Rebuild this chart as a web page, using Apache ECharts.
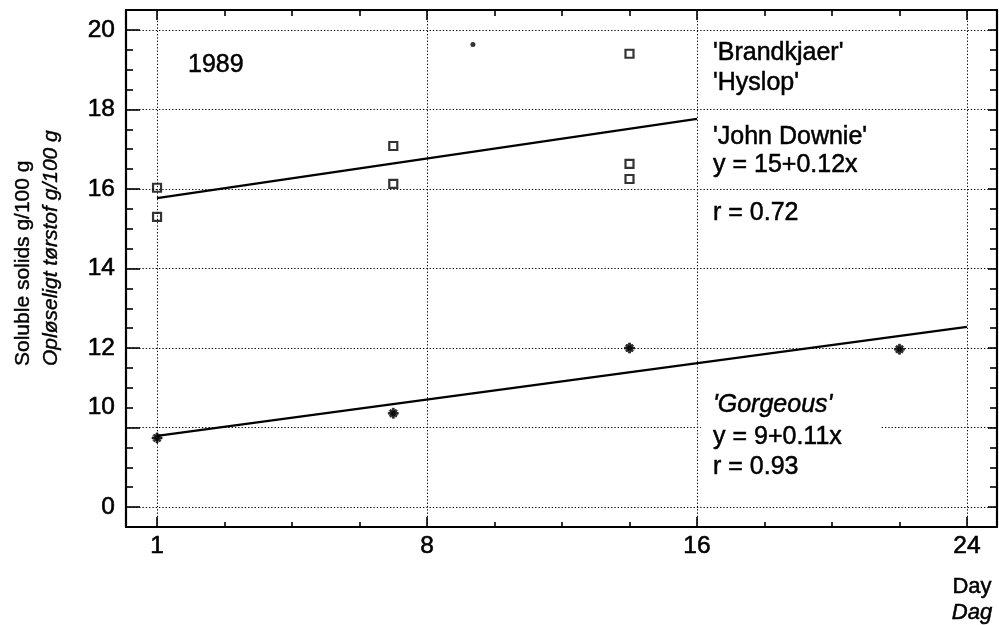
<!DOCTYPE html>
<html>
<head>
<meta charset="utf-8">
<script src="https://cdn.jsdelivr.net/npm/echarts@6/dist/echarts.min.js"></script>
<style>html,body{margin:0;padding:0;background:#fff}#c{width:999px;height:625px}</style>
</head>
<body>
<div id="c"></div>
<script>
// ---- data (display units: y value 8 is drawn as the broken-axis "0") ----
const xTickValues = [0, 8, 16, 24];
const xTickLabels = ['1', '8', '16', '24'];
const xMinorTicks = [2, 4, 6, 10, 12, 14, 18, 20, 22];
const yTickValues = [8, 10.5, 12, 14, 16, 18, 20];
const yTickLabels = ['0', '10', '12', '14', '16', '18', '20'];
const yMajorTicks = [8, 10, 12, 14, 16, 18, 20];
const yMinorTicks = [8.5, 9, 9.5, 10.5, 11, 11.5, 12.5, 13, 13.5, 14.5, 15, 15.5, 16.5, 17, 17.5, 18.5, 19, 19.5];
const xGrid = [0, 8, 16, 24];
const yGrid = [8, 10, 12, 14, 16, 18, 20];

const cultivarDays = [0, 0, 7, 7, 14, 14, 14];
const cultivarValues = [16.03, 15.30, 17.08, 16.13, 19.40, 16.63, 16.25];
const gorgeousDays = [0, 7, 14, 22];
const gorgeousValues = [9.74, 10.36, 12.0, 11.97];
const strayDays = [9.36];
const strayValues = [19.63];
const cultivarTrendDays = [0, 16];
const cultivarTrendValues = [15.77, 17.76];
const gorgeousTrendDays = [0, 24];
const gorgeousTrendValues = [9.79, 12.53];

const zip = (a, b) => a.map((v, i) => [v, b[i]]);
const FONT = '"Liberation Sans", Arial, Helvetica, sans-serif';
const XMIN = -0.92, XMAX = 24.89, YMIN = 7.5, YMAX = 20.5;

const asterisk = 'path://M4,0 L6,0 L6,10 L4,10 Z M0,4 L10,4 L10,6 L0,6 Z M1,2.4 L2.4,1 L9,7.6 L7.6,9 Z M7.6,1 L9,2.4 L2.4,9 L1,7.6 Z';

function xAx(pos, ticks, len, labels, line) {
  return {
    type: 'value', position: pos, min: XMIN, max: XMAX,
    axisLine: { show: line, onZero: false, lineStyle: { color: '#000', width: 2.2 } },
    axisTick: { show: true, inside: true, length: len, customValues: ticks, lineStyle: { color: '#000', width: 1.6 } },
    axisLabel: labels ? {
      show: true, customValues: xTickValues, margin: 7, color: '#000', fontSize: 24.5, fontFamily: FONT,
      textBorderColor: '#000', textBorderWidth: 0.6,
      formatter: v => { const i = xTickValues.indexOf(v); return i >= 0 ? xTickLabels[i] : ''; }
    } : { show: false },
    splitLine: { show: false }
  };
}
function yAx(pos, ticks, len, labels, line) {
  return {
    type: 'value', position: pos, min: YMIN, max: YMAX,
    axisLine: { show: line, onZero: false, lineStyle: { color: '#000', width: 2.2 } },
    axisTick: { show: true, inside: true, length: len, customValues: ticks, lineStyle: { color: '#000', width: 1.6 } },
    axisLabel: labels ? {
      show: true, customValues: yTickValues, margin: 11, color: '#000', fontSize: 24.5, fontFamily: FONT,
      textBorderColor: '#000', textBorderWidth: 0.6,
      formatter: v => { const i = yTickValues.indexOf(v); return i >= 0 ? yTickLabels[i] : ''; }
    } : { show: false },
    splitLine: { show: false }
  };
}

const chart = echarts.init(document.getElementById('c'), null, { renderer: 'canvas' });
const gridLine = { color: '#000', width: 1, type: [1.3, 2.0] };

function txt(x, y, text, font, align) {
  return {
    type: 'text', z: 60, x: x, y: y,
    style: { text: text, font: font + FONT, fill: '#000', stroke: '#000', lineWidth: 0.5, align: align || 'left', verticalAlign: 'middle' }
  };
}
function vtxt(x, y, text, font) {
  return {
    type: 'text', z: 60, x: x, y: y, rotation: Math.PI / 2,
    style: { text: text, font: font + FONT, fill: '#000', stroke: '#000', lineWidth: 0.4, align: 'left', verticalAlign: 'middle' }
  };
}

const option = {
  animation: false,
  backgroundColor: '#fff',
  grid: { left: 126, right: 2, top: 10, bottom: 98 },
  xAxis: [
    xAx('bottom', xTickValues, 10, true, true),
    xAx('bottom', xMinorTicks, 5, false, false),
    xAx('top', xTickValues, 10, false, true),
    xAx('top', xMinorTicks, 6, false, false)
  ],
  yAxis: [
    yAx('left', yMajorTicks, 14, true, true),
    yAx('left', yMinorTicks, 7, false, false),
    yAx('right', yMajorTicks, 9, false, true),
    yAx('right', yMinorTicks, 7, false, false)
  ],
  series: [
    {
      type: 'scatter', silent: true, data: [], symbolSize: 0,
      markLine: {
        silent: true, symbol: 'none', label: { show: false }, animation: false,
        lineStyle: gridLine,
        data: xGrid.map(v => ({ xAxis: v })).concat(yGrid.map(v => ({ yAxis: v })))
      }
    },
    {
      name: 'trend cultivars', type: 'line', data: zip(cultivarTrendDays, cultivarTrendValues),
      showSymbol: false, symbol: 'none', lineStyle: { color: '#000', width: 2.3 }, z: 3
    },
    {
      name: 'trend Gorgeous', type: 'line', data: zip(gorgeousTrendDays, gorgeousTrendValues),
      showSymbol: false, symbol: 'none', lineStyle: { color: '#000', width: 2.3 }, z: 3
    },
    {
      name: 'Brandkjaer/Hyslop/John Downie', type: 'scatter', data: zip(cultivarDays, cultivarValues),
      symbol: 'rect', symbolSize: 8,
      itemStyle: { color: '#fff', borderColor: '#000', borderWidth: 2.2 }, z: 4
    },
    {
      name: 'Gorgeous', type: 'scatter', data: zip(gorgeousDays, gorgeousValues),
      symbol: asterisk, symbolSize: 10, itemStyle: { color: '#000', borderColor: '#000', borderWidth: 0.8 }, z: 4
    },
    {
      name: 'stray', type: 'scatter', data: zip(strayDays, strayValues),
      symbol: 'circle', symbolSize: 5, itemStyle: { color: '#000' }, z: 4
    }
  ],
  graphic: [
    { type: 'rect', z: 50, shape: { x: 701, y: 425, width: 180, height: 6 }, style: { fill: '#fff' } },
    txt(188, 65, '1989', '25px '),
    txt(713, 53, "'Brandkjaer'", '25px '),
    txt(713, 83, "'Hyslop'", '25px '),
    txt(713, 137, "'John Downie'", '25px '),
    txt(713, 165, 'y = 15+0.12x', '25px '),
    txt(713, 213, 'r = 0.72', '25px '),
    txt(713, 405, "'Gorgeous'", 'italic 25px '),
    txt(713, 437, 'y = 9+0.11x', '25px '),
    txt(713, 467, 'r = 0.93', '25px '),
    txt(972, 587, 'Day', '22px ', 'center'),
    txt(972, 613, 'Dag', 'italic 22px ', 'center'),
    vtxt(23, 366, 'Soluble solids g/100 g', '21px '),
    vtxt(51, 366, 'Opløseligt tørstof g/100 g', 'italic 21px ')
  ]
};
chart.setOption(option);
</script>
</body>
</html>
